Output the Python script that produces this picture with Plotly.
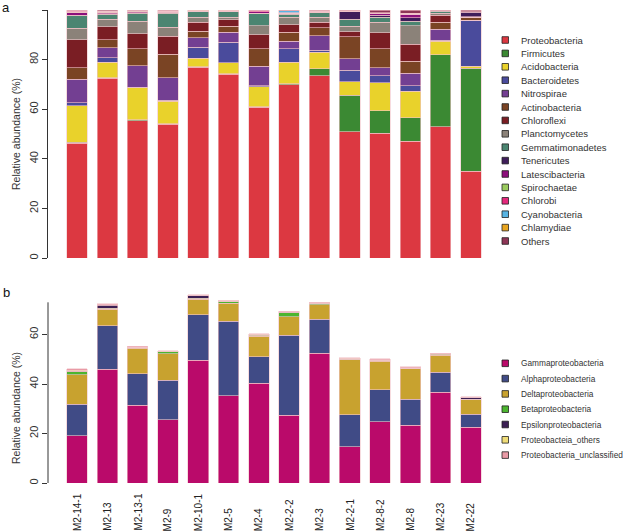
import plotly.graph_objects as go

samples = ["M2-14-1", "M2-13", "M2-13-1", "M2-9", "M2-10-1", "M2-5", "M2-4",
           "M2-2-2", "M2-3", "M2-2-1", "M2-8-2", "M2-8", "M2-23", "M2-22"]

# ---- Panel a: phylum level relative abundance (%) ----
phyla = ["Proteobacteria", "Firmicutes", "Acidobacteria", "Bacteroidetes", "Nitrospirae",
         "Actinobacteria", "Chloroflexi", "Planctomycetes", "Gemmatimonadetes", "Tenericutes",
         "Latescibacteria", "Spirochaetae", "Chlorobi", "Cyanobacteria", "Chlamydiae", "Others"]
proteobacteria = [46.3, 72.5, 55.4, 54.0, 76.9, 74.1, 60.7, 69.9, 73.5, 50.9, 50.4, 47.0, 52.9, 34.9]
firmicutes = [0.3, 0.2, 0.4, 0.2, 0.3, 0.2, 0.3, 0.4, 2.9, 14.7, 9.0, 9.6, 29.1, 41.7]
acidobacteria = [14.8, 6.2, 12.8, 9.0, 3.3, 4.4, 8.1, 8.6, 6.6, 5.4, 11.3, 10.7, 5.5, 0.8]
bacteroidetes = [1.2, 1.8, 0.3, 0.4, 4.5, 8.3, 0.3, 5.5, 0.8, 4.7, 2.7, 2.2, 0.3, 18.4]
nitrospirae = [9.5, 4.0, 8.7, 9.1, 3.9, 4.0, 8.0, 3.0, 5.9, 4.6, 3.4, 5.0, 4.5, 0.1]
actinobacteria = [4.7, 3.4, 6.8, 9.4, 2.5, 2.5, 7.0, 3.6, 3.2, 9.0, 7.6, 4.8, 2.8, 1.0]
chloroflexi = [11.2, 5.1, 6.1, 7.3, 3.7, 2.5, 5.7, 3.1, 2.2, 1.9, 6.5, 6.8, 2.8, 0.1]
planctomycetes = [4.7, 3.1, 4.9, 3.7, 2.0, 1.1, 3.6, 3.0, 2.0, 2.3, 4.2, 7.6, 0.7, 0.1]
gemmatimonadetes = [5.0, 1.9, 3.2, 5.5, 2.2, 2.2, 4.9, 1.2, 1.9, 2.7, 2.0, 1.7, 0.9, 0.1]
tenericutes = [0.2, 0.2, 0.3, 0.3, 0.1, 0.1, 0.1, 0.1, 0.1, 3.1, 0.7, 1.4, 0.1, 1.9]
latescibacteria = [1.0, 0.5, 0.4, 0.2, 0.1, 0.1, 0.5, 0.2, 0.4, 0.1, 0.9, 1.5, 0.1, 0.1]
spirochaetae = [0.1, 0.1, 0.1, 0.1, 0.1, 0.1, 0.1, 0.1, 0.0, 0.0, 0.0, 0.0, 0.0, 0.0]
chlorobi = [0.5, 0.3, 0.2, 0.2, 0.1, 0.1, 0.4, 0.1, 0.2, 0.1, 0.1, 0.3, 0.1, 0.0]
cyanobacteria = [0.1, 0.1, 0.1, 0.1, 0.1, 0.1, 0.1, 0.9, 0.0, 0.3, 0.0, 0.1, 0.0, 0.0]
chlamydiae = [0.1, 0.1, 0.1, 0.1, 0.1, 0.1, 0.0, 0.1, 0.1, 0.0, 0.1, 0.0, 0.0, 0.0]
others = [0.3, 0.5, 0.2, 0.4, 0.2, 0.1, 0.2, 0.2, 0.2, 0.2, 1.1, 1.3, 0.2, 0.8]
phylum_values = [proteobacteria, firmicutes, acidobacteria, bacteroidetes, nitrospirae,
                 actinobacteria, chloroflexi, planctomycetes, gemmatimonadetes, tenericutes,
                 latescibacteria, spirochaetae, chlorobi, cyanobacteria, chlamydiae, others]
phylum_colors = ["#DC3841", "#3B8933", "#E9D22B", "#4A4B9C", "#733F92", "#7A4424", "#7A1E24",
                 "#8B8279", "#4B8571", "#3F1D5A", "#8C0F7B", "#9ACB5E", "#E4287C", "#58B4E3",
                 "#E8A51F", "#8E3556"]

# ---- Panel b: Proteobacteria classes relative abundance (%) ----
classes = ["Gammaproteobacteria", "Alphaproteobacteria", "Deltaproteobacteria",
           "Betaproteobacteria", "Epsilonproteobacteria", "Proteobacteia_others",
           "Proteobacteria_unclassified"]
gamma = [19.1, 45.9, 31.4, 25.6, 49.5, 35.3, 40.4, 27.3, 52.4, 14.7, 24.8, 23.3, 36.6, 22.5]
alpha = [12.7, 17.6, 12.8, 15.9, 18.5, 30.1, 10.6, 32.3, 13.7, 12.9, 12.8, 10.6, 8.2, 5.3]
delta = [12.0, 6.8, 10.2, 10.7, 6.3, 7.3, 8.2, 7.6, 5.9, 22.2, 11.5, 12.2, 6.8, 5.8]
beta = [1.2, 0.4, 0.3, 0.8, 0.4, 0.8, 0.5, 1.6, 0.6, 0.3, 0.4, 0.2, 0.5, 0.2]
epsilon = [0.1, 1.1, 0.1, 0.1, 1.1, 0.0, 0.1, 0.1, 0.1, 0.2, 0.1, 0.1, 0.1, 0.8]
p_others = [0.4, 0.2, 0.1, 0.1, 0.1, 0.1, 0.2, 0.2, 0.1, 0.1, 0.2, 0.2, 0.1, 0.1]
p_unclassified = [0.6, 0.4, 0.3, 0.3, 0.2, 0.1, 0.4, 0.3, 0.3, 0.2, 0.4, 0.3, 0.2, 0.1]
class_values = [gamma, alpha, delta, beta, epsilon, p_others, p_unclassified]
class_colors = ["#BA0A6A", "#404B86", "#C8A22F", "#4CB530", "#3B1F53", "#EFDC78", "#E99AA6"]

top_ticks = [0, 20, 40, 60, 80, 100]
bottom_ticks = [0, 20, 40, 60]

W, H = 625, 531
ML, MR, MT, MB = 48, 135, 10, 48
PW, PH = W - ML - MR, H - MT - MB


def px_x(p):
    return (p - ML) / PW


def px_y(p):
    return (H - MB - p) / PH


FONT = "Liberation Sans, Arial, sans-serif"
EDGE = dict(color="#F2C4CA", width=0.6)

fig = go.Figure()
for name, vals, col in zip(phyla, phylum_values, phylum_colors):
    fig.add_trace(go.Bar(x=samples, y=vals, name=name, marker=dict(color=col, line=EDGE),
                         xaxis="x", yaxis="y", showlegend=False))
for name, vals, col in zip(classes, class_values, class_colors):
    fig.add_trace(go.Bar(x=samples, y=vals, name=name, marker=dict(color=col, line=EDGE),
                         xaxis="x2", yaxis="y2", showlegend=False))

xr = [-0.957, 13.63]
axis_common = dict(showgrid=False, zeroline=False)
fig.update_layout(
    width=W, height=H,
    margin=dict(l=ML, r=MR, t=MT, b=MB),
    paper_bgcolor="white", plot_bgcolor="white",
    barmode="stack", bargap=0.32,
    font=dict(family=FONT, color="#222", size=11),
    xaxis=dict(domain=[0, 1], range=xr, type="category", showticklabels=False,
               ticks="", showline=False, anchor="y", **axis_common),
    xaxis2=dict(domain=[0, 1], range=xr, type="category", showticklabels=False,
                ticks="", showline=False, anchor="y2", matches="x", **axis_common),
    yaxis=dict(domain=[px_y(258), 1.0], range=[0, 100], tickvals=top_ticks,
               ticks="outside", ticklen=5, tickwidth=1, tickcolor="#333",
               tickangle=-90, showline=True, linecolor="#333", linewidth=1,
               tickfont=dict(size=11, color="#333"), anchor="x", **axis_common),
    yaxis2=dict(domain=[0, px_y(483 - 77 * 2.475)], range=[0, 77], tickvals=bottom_ticks,
                ticks="outside", ticklen=5, tickwidth=1, tickcolor="#333",
                tickangle=-90, showline=False,
                tickfont=dict(size=11, color="#333"), anchor="x2", **axis_common),
)

shapes = [dict(type="line", xref="x2 domain", yref="y2", x0=0, x1=0, y0=0, y1=73,
               line=dict(color="#333", width=1))]
annotations = []

# axis titles and panel letters
annotations.append(dict(text="Relative abundance (%)", xref="paper", yref="paper",
                        x=px_x(16), y=px_y(134), textangle=-90, showarrow=False,
                        xanchor="center", yanchor="middle", font=dict(size=10.5, color="#333")))
annotations.append(dict(text="Relative abundance (%)", xref="paper", yref="paper",
                        x=px_x(16), y=px_y(408), textangle=-90, showarrow=False,
                        xanchor="center", yanchor="middle", font=dict(size=10.5, color="#333")))
annotations.append(dict(text="a", xref="paper", yref="paper", x=px_x(6), y=px_y(8),
                        showarrow=False, xanchor="center", yanchor="middle",
                        font=dict(size=13, color="#111")))
annotations.append(dict(text="b", xref="paper", yref="paper", x=px_x(6), y=px_y(292),
                        showarrow=False, xanchor="center", yanchor="middle",
                        font=dict(size=13, color="#111")))

# sample labels (rotated, bottom aligned)
for s in samples:
    annotations.append(dict(text=s, xref="x2", yref="paper", x=s, y=px_y(533),
                            textangle=-90, showarrow=False, xanchor="center",
                            yanchor="bottom", font=dict(size=10, color="#222")))

# legend a
for i, (name, col) in enumerate(zip(phyla, phylum_colors)):
    cy = 40 + 13.4 * i
    shapes.append(dict(type="rect", xref="paper", yref="paper",
                       x0=px_x(502), x1=px_x(508.5), y0=px_y(cy + 3.3), y1=px_y(cy - 3.3),
                       fillcolor=col, line=dict(color="#222", width=0.8)))
    annotations.append(dict(text=name, xref="paper", yref="paper", x=px_x(518.5), y=px_y(cy),
                            showarrow=False, xanchor="left", yanchor="middle",
                            font=dict(size=9.5, color="#333", family=FONT)))

# legend b
for i, (name, col) in enumerate(zip(classes, class_colors)):
    cy = 363.3 + 15.3 * i
    shapes.append(dict(type="rect", xref="paper", yref="paper",
                       x0=px_x(502), x1=px_x(508.5), y0=px_y(cy + 3.3), y1=px_y(cy - 3.3),
                       fillcolor=col, line=dict(color="#222", width=0.8)))
    annotations.append(dict(text=name, xref="paper", yref="paper", x=px_x(519), y=px_y(cy),
                            showarrow=False, xanchor="left", yanchor="middle",
                            font=dict(size=8.3, color="#333", family=FONT)))

fig.update_layout(shapes=shapes, annotations=annotations)
fig.write_html("out.html", config={"displayModeBar": False},
               post_script="document.body.style.margin='0';document.body.style.overflow='hidden';")
